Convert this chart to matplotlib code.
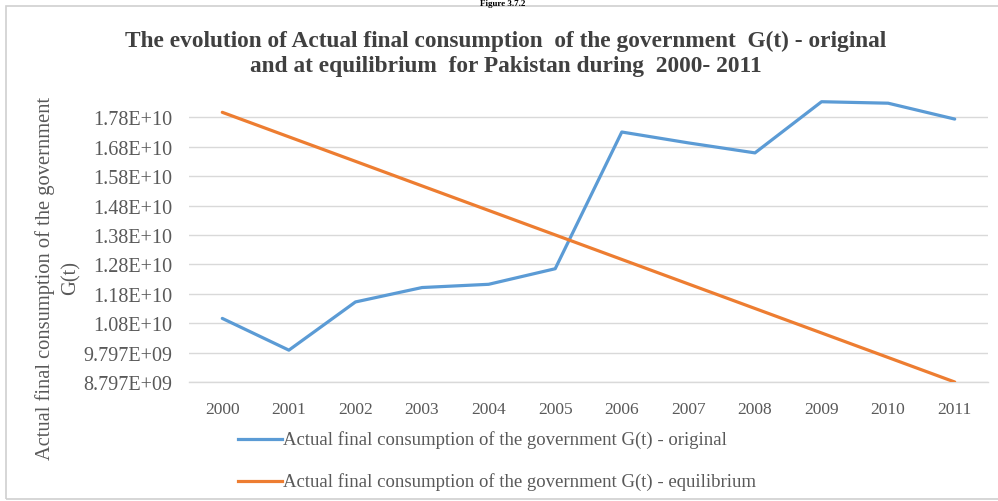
import matplotlib
matplotlib.use("Agg")
import matplotlib.pyplot as plt
from matplotlib.patches import Rectangle
from matplotlib.lines import Line2D

years = ["2000", "2001", "2002", "2003", "2004", "2005", "2006", "2007", "2008", "2009", "2010", "2011"]
original = [1.096e10, 9.88e9, 1.152e10, 1.201e10, 1.212e10, 1.265e10,
            1.730e10, 1.693e10, 1.659e10, 1.833e10, 1.828e10, 1.774e10]
equilibrium = [1.797e10, 1.7136e10, 1.6303e10, 1.5467e10, 1.4633e10, 1.3800e10,
               1.2966e10, 1.2132e10, 1.1298e10, 1.0465e10, 9.631e9, 8.797e9]
ytick_vals = [8.797e9, 9.797e9, 1.0797e10, 1.1797e10, 1.2797e10, 1.3797e10,
              1.4797e10, 1.5797e10, 1.6797e10, 1.7797e10]
ytick_labels = ["8.797E+09", "9.797E+09", "1.08E+10", "1.18E+10", "1.28E+10",
                "1.38E+10", "1.48E+10", "1.58E+10", "1.68E+10", "1.78E+10"]
title = ("The evolution of Actual final consumption  of the government  G(t) - original\n"
         "and at equilibrium  for Pakistan during  2000- 2011")
ylabel = "Actual final consumption of the government\nG(t)"
labels = ["Actual final consumption of the government G(t) - original",
          "Actual final consumption of the government G(t) - equilibrium"]

blue = "#5b9bd5"
orange = "#ed7d31"
tick_color = "#595959"
grid_color = "#d9d9d9"
serif = ["Liberation Serif", "DejaVu Serif"]

W, H = 998, 502
fig = plt.figure(figsize=(W / 100, H / 100), dpi=100)

def fx(px):
    return px / W

def fy(py):
    return 1 - py / H

# chart border
fig.patches.append(Rectangle((fx(6), fy(500)), fx(1005) - fx(6), fy(7) - fy(500),
                             transform=fig.transFigure, fill=False,
                             edgecolor="#d0d0d0", linewidth=1.2))

# figure caption at very top
fig.text(fx(503), fy(6), "Figure 3.7.2", ha="center", va="baseline",
         fontsize=6.5, fontweight="bold", family=serif, color="black")

ax = fig.add_axes([fx(189), fy(383), fx(988) - fx(189), fy(89) - fy(383)])
x = list(range(len(years)))
ax.plot(x, original, color=blue, linewidth=2.3, solid_capstyle="round", solid_joinstyle="round", zorder=3)
ax.plot(x, equilibrium, color=orange, linewidth=2.3, solid_capstyle="round", solid_joinstyle="round", zorder=3)

ax.set_xlim(-0.5, len(years) - 0.5)
ax.set_ylim(8.797e9, 1.8797e10)
ax.set_xticks(x)
ax.set_xticklabels(years)
ax.set_yticks(ytick_vals)
ax.set_yticklabels(ytick_labels)
ax.tick_params(axis="x", length=0, colors=tick_color, labelsize=12.5, pad=14)
ax.tick_params(axis="y", length=0, colors=tick_color, labelsize=14.5, pad=12)
for lab in ax.get_xticklabels() + ax.get_yticklabels():
    lab.set_family(serif)
    lab.set_color(tick_color)
ax.yaxis.grid(True, color=grid_color, linewidth=1.0)
ax.set_axisbelow(True)
for s in ["top", "right", "left"]:
    ax.spines[s].set_visible(False)
ax.spines["bottom"].set_color(grid_color)
ax.spines["bottom"].set_linewidth(1.0)

fig.text(fx(506), fy(54), title, ha="center", va="center", fontsize=16.8,
         fontweight="bold", family=serif, color="#404040", linespacing=1.25)

fig.text(fx(58), fy(278), ylabel, ha="center", va="center", rotation=90,
         fontsize=14.8, family=serif, color=tick_color, linespacing=1.45,
         multialignment="center")

# legend
for i, (lab, col) in enumerate(zip(labels, [blue, orange])):
    yy = [440, 482][i]
    fig.lines.append(Line2D([fx(238), fx(282)], [fy(yy), fy(yy)], transform=fig.transFigure,
                            color=col, linewidth=2.3))
    fig.text(fx(283), fy(yy), lab, ha="left", va="center", fontsize=13.5,
             family=serif, color=tick_color)

fig.savefig("out.png", dpi=100)
